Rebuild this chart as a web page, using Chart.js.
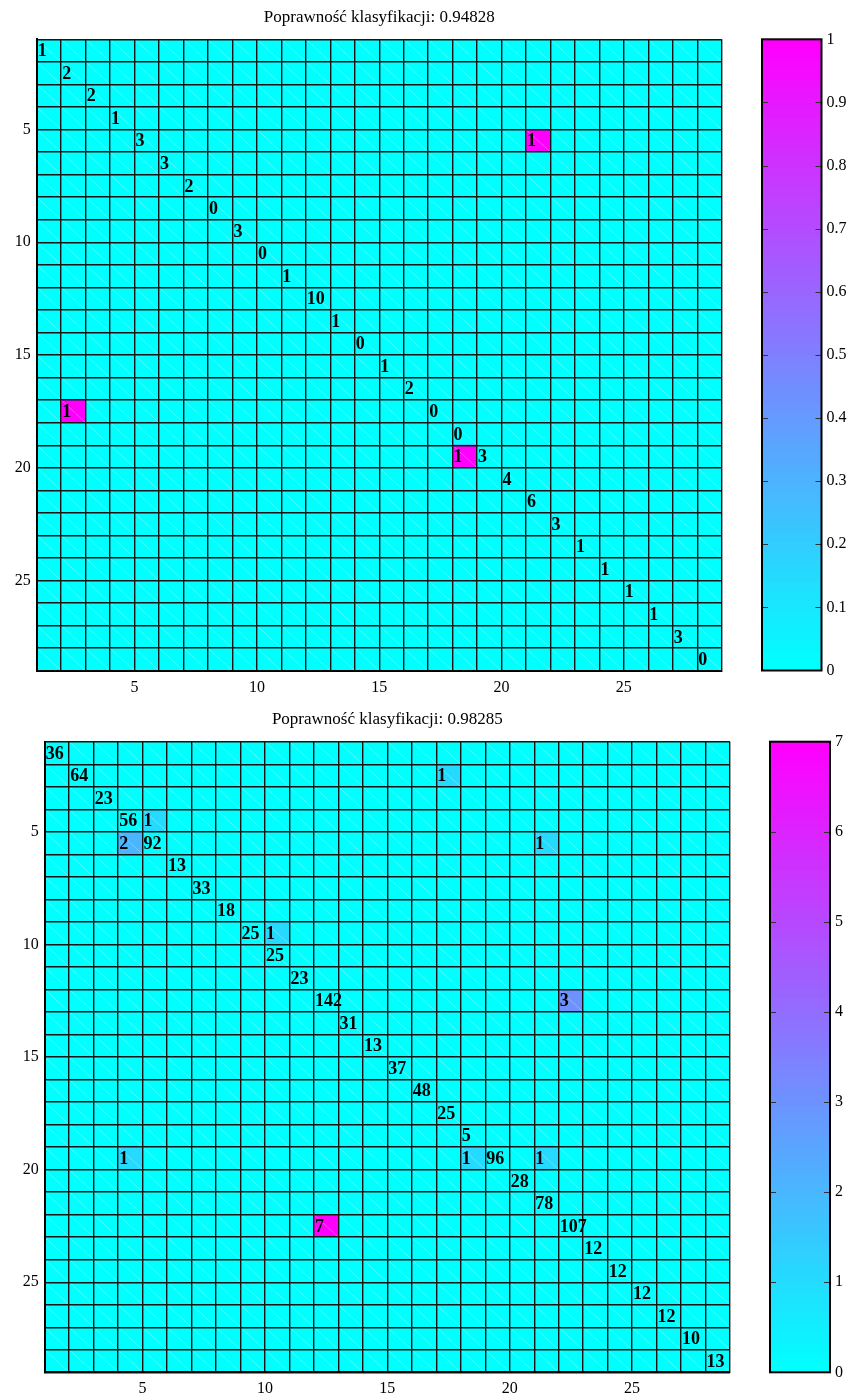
<!DOCTYPE html>
<html>
<head>
<meta charset="utf-8">
<script src="https://cdn.jsdelivr.net/npm/chart.js@4.4.1/dist/chart.umd.min.js"></script>
<style>
  html, body { margin: 0; padding: 0; background: #ffffff; }
  #wrap { position: relative; width: 854px; height: 1399px; overflow: hidden; }
  canvas { position: absolute; }
</style>
</head>
<body>
<div id="wrap">
  <canvas id="matrixA" width="740" height="700" style="left:0px;top:0px"></canvas>
  <canvas id="barA" width="114" height="700" style="left:740px;top:0px"></canvas>
  <canvas id="matrixB" width="740" height="699" style="left:0px;top:700px"></canvas>
  <canvas id="barB" width="114" height="699" style="left:740px;top:700px"></canvas>
</div>
<script>
// ---- data ----------------------------------------------------------------
// class indices (rows = true class, columns = predicted class)
const classes = [1, 2, 3, 4, 5, 6, 7, 8, 9, 10, 11, 12, 13, 14,
                 15, 16, 17, 18, 19, 20, 21, 22, 23, 24, 25, 26, 27, 28];
const axisTickLabels = [5, 10, 15, 20, 25];

// first confusion matrix
const titleA = 'Poprawność klasyfikacji: 0.94828';
const diagonalA = [1, 2, 2, 1, 3, 3, 2, 0, 3, 0, 1, 10, 1, 0,
                   1, 2, 0, 0, 3, 4, 6, 3, 1, 1, 1, 1, 3, 0];
const errorRowA = [5, 17, 19];
const errorColA = [21, 2, 18];
const errorValA = [1, 1, 1];
const colorTicksA = [0, 0.1, 0.2, 0.3, 0.4, 0.5, 0.6, 0.7, 0.8, 0.9, 1];

// second confusion matrix
const titleB = 'Poprawność klasyfikacji: 0.98285';
const diagonalB = [36, 64, 23, 56, 92, 13, 33, 18, 25, 25, 23, 142, 31, 13,
                   37, 48, 25, 5, 96, 28, 78, 107, 12, 12, 12, 12, 10, 13];
const errorRowB = [2, 4, 5, 5, 9, 12, 19, 19, 19, 22];
const errorColB = [17, 5, 4, 21, 10, 22, 4, 18, 21, 12];
const errorValB = [1, 1, 2, 1, 1, 3, 1, 1, 1, 7];
const colorTicksB = [0, 1, 2, 3, 4, 5, 6, 7];

// ---- styling -------------------------------------------------------------
const SERIF = "'Liberation Serif', 'Times New Roman', serif";
const TICK_FONT = { family: SERIF, size: 16, weight: 'normal' };
const CELL_FONT = "bold 18px " + SERIF;
const TITLE_FONT = "17px " + SERIF;
const GRID_COLOR = '#141414';

// MATLAB-style "cool" colormap with 64 levels
function coolColor(v, vmax) {
  const idx = Math.min(63, Math.floor((vmax > 0 ? v / vmax : 0) * 64));
  const t = idx / 63;
  return 'rgb(' + Math.round(255 * t) + ',' + Math.round(255 * (1 - t)) + ',255)';
}

// one floating bar per matrix cell: column c spans [c, c+1], row r spans [r, r+1]
function buildCells(diag, eRow, eCol, eVal) {
  const cells = [];
  classes.forEach(r => {
    classes.forEach(c => {
      let v = 0, label = null;
      if (r === c) label = String(diag[r - 1]);
      eRow.forEach((er, k) => {
        if (er === r && eCol[k] === c) { v = eVal[k]; label = String(eVal[k]); }
      });
      cells.push({ x: c + 0.5, y: [r, r + 1], v: v, label: label });
    });
  });
  return cells;
}

const gridValues = classes.concat([classes.length + 1]);

// faint triangulation seam across every cell
const cellSeams = {
  id: 'cellSeams',
  afterDatasetsDraw(chart) {
    const ctx = chart.ctx;
    const meta = chart.getDatasetMeta(0);
    ctx.save();
    ctx.strokeStyle = 'rgba(255,255,255,0.35)';
    ctx.lineWidth = 0.8;
    meta.data.forEach(el => {
      const p = el.getProps(['x', 'y', 'base', 'width'], true);
      const top = Math.min(p.y, p.base), bottom = Math.max(p.y, p.base);
      ctx.beginPath();
      ctx.moveTo(p.x - p.width / 2, top);
      ctx.lineTo(p.x + p.width / 2, bottom);
      ctx.stroke();
    });
    ctx.restore();
  }
};

// counts written in the upper-left of each labelled cell
const cellLabels = {
  id: 'cellLabels',
  afterDraw(chart) {
    const ctx = chart.ctx;
    const meta = chart.getDatasetMeta(0);
    const data = chart.data.datasets[0].data;
    ctx.save();
    ctx.font = CELL_FONT;
    ctx.fillStyle = '#000';
    ctx.textAlign = 'left';
    ctx.textBaseline = 'middle';
    meta.data.forEach((el, i) => {
      const lab = data[i].label;
      if (lab === null) return;
      const p = el.getProps(['x', 'y', 'base', 'width'], true);
      ctx.fillText(lab, p.x - p.width / 2 + 1, (p.y + p.base) / 2 + 1);
    });
    ctx.restore();
  }
};

// title centred over the plotting area
const axesTitle = {
  id: 'axesTitle',
  afterDraw(chart, args, opts) {
    const a = chart.chartArea;
    const ctx = chart.ctx;
    ctx.save();
    ctx.font = TITLE_FONT;
    ctx.fillStyle = '#000';
    ctx.textAlign = 'center';
    ctx.textBaseline = 'middle';
    ctx.fillText(opts.text, (a.left + a.right) / 2, opts.y);
    ctx.restore();
  }
};

function matrixChart(id, cells, cmax, title, box) {
  const axisCommon = {
    type: 'linear', min: 1, max: classes.length + 1, offset: false,
    grid: { offset: false, color: GRID_COLOR, lineWidth: 1.4, drawTicks: false, z: 1 },
    border: { display: true, color: '#000', width: 2, z: 2 },
    afterBuildTicks: s => { s.ticks = gridValues.map(v => ({ value: v })); }
  };
  return new Chart(document.getElementById(id), {
    type: 'bar',
    data: {
      datasets: [{
        data: cells,
        backgroundColor: ctx => coolColor(ctx.raw ? ctx.raw.v : 0, cmax),
        borderWidth: 0,
        borderSkipped: false,
        categoryPercentage: 1,
        barPercentage: 1
      }]
    },
    options: {
      responsive: false, animation: false, devicePixelRatio: 1,
      layout: { padding: { top: box.top, right: box.right, left: 0, bottom: 0 } },
      plugins: {
        legend: { display: false }, tooltip: { enabled: false }, title: { display: false },
        axesTitle: { text: title, y: box.titleY }
      },
      scales: {
        x: Object.assign({}, axisCommon, {
          ticks: {
            autoSkip: false, maxRotation: 0, padding: 7, color: '#000', font: TICK_FONT,
            callback: v => axisTickLabels.includes(v) ? String(v) : ''
          },
          afterFit: s => { s.height = box.xh; }
        }),
        y: Object.assign({}, axisCommon, {
          reverse: true,
          ticks: {
            autoSkip: false, padding: 6, color: '#000', font: TICK_FONT,
            callback: v => axisTickLabels.includes(v) ? String(v) : ''
          },
          afterFit: s => { s.width = box.yw; }
        })
      }
    },
    plugins: [cellSeams, cellLabels, axesTitle]
  });
}

// frame and inner tick marks of a colour bar
const barFrame = {
  id: 'barFrame',
  afterDraw(chart) {
    const a = chart.chartArea;
    const ys = chart.scales.y;
    const ctx = chart.ctx;
    ctx.save();
    ctx.strokeStyle = '#333';
    ctx.lineWidth = 1;
    ys.ticks.forEach(t => {
      if (t.value === ys.min || t.value === ys.max) return;
      const y = Math.round(ys.getPixelForValue(t.value)) + 0.5;
      ctx.beginPath();
      ctx.moveTo(a.left, y); ctx.lineTo(a.left + 6, y);
      ctx.moveTo(a.right - 6, y); ctx.lineTo(a.right, y);
      ctx.stroke();
    });
    ctx.strokeStyle = '#000';
    ctx.lineWidth = 2;
    ctx.strokeRect(a.left, a.top, a.right - a.left, a.bottom - a.top);
    ctx.restore();
  }
};

function colorBar(id, cmax, ticks, box) {
  return new Chart(document.getElementById(id), {
    type: 'bar',
    data: {
      labels: ['scale'],
      datasets: [{
        data: [[0, cmax]],
        backgroundColor: ctx => {
          const a = ctx.chart.chartArea;
          if (!a) return coolColor(0, cmax);
          const g = ctx.chart.ctx.createLinearGradient(0, a.bottom, 0, a.top);
          for (let i = 0; i < 64; i++) {
            const c = coolColor((i + 0.5) / 64 * cmax, cmax);
            g.addColorStop(i / 64, c);
            g.addColorStop((i + 1) / 64, c);
          }
          return g;
        },
        borderWidth: 0,
        categoryPercentage: 1,
        barPercentage: 1
      }]
    },
    options: {
      responsive: false, animation: false, devicePixelRatio: 1,
      layout: { padding: { left: box.left, top: box.top, bottom: box.bottom, right: 0 } },
      plugins: { legend: { display: false }, tooltip: { enabled: false } },
      scales: {
        x: { display: false },
        y: {
          position: 'right', min: 0, max: cmax,
          grid: { display: false, drawTicks: false }, border: { display: false },
          ticks: { padding: 5, color: '#000', font: TICK_FONT, callback: v => String(v) },
          afterBuildTicks: s => { s.ticks = ticks.map(v => ({ value: v })); },
          afterFit: s => { s.width = box.yw; }
        }
      }
    },
    plugins: [barFrame]
  });
}

const cmaxA = Math.max(...errorValA);
const cmaxB = Math.max(...errorValB);

matrixChart('matrixA', buildCells(diagonalA, errorRowA, errorColA, errorValA), cmaxA, titleA,
  { top: 39.3, right: 18.3, yw: 36.7, xh: 29.3, titleY: 17.5 });
colorBar('barA', cmaxA, colorTicksA, { left: 22, top: 39.3, bottom: 29.5, yw: 32.5 });

matrixChart('matrixB', buildCells(diagonalB, errorRowB, errorColB, errorValB), cmaxB, titleB,
  { top: 41.7, right: 10, yw: 44.7, xh: 26.7, titleY: 20 });
colorBar('barB', cmaxB, colorTicksB, { left: 30, top: 41.7, bottom: 26.7, yw: 24 });
</script>
</body>
</html>
